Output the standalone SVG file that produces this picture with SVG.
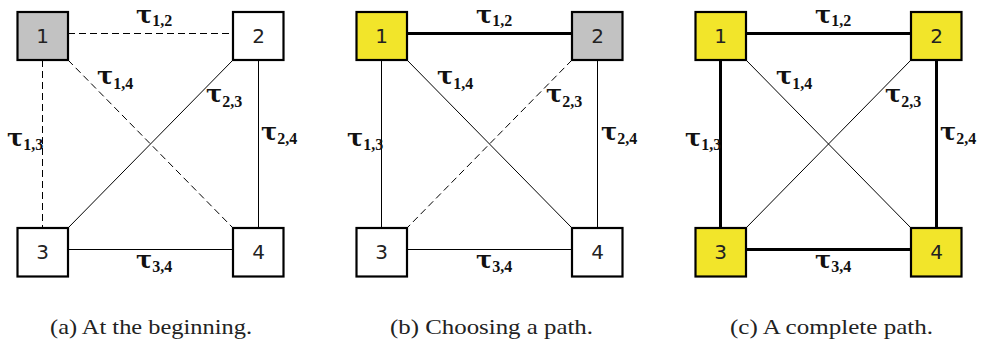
<svg xmlns="http://www.w3.org/2000/svg" width="982" height="344" viewBox="0 0 982 344">
<style>
.box{stroke:#000;stroke-width:2.2}
.w{fill:#fff}.g{fill:#c2c2c2}.y{fill:#f2e52a}
.num{font-family:"DejaVu Sans",sans-serif;font-size:20px;fill:#222;text-anchor:middle}
.e{stroke:#000;stroke-width:1;fill:none}
.d{stroke-dasharray:7,4}
.t{stroke:#000;stroke-width:3;fill:none}
.lab{font-family:"DejaVu Serif",serif;font-size:24px;font-weight:bold;fill:#111}
.sub{font-family:"Liberation Serif",serif;font-size:16px;font-weight:bold}
.cap{font-family:"Liberation Serif",serif;font-size:22px;fill:#222}
</style>

<!-- Panel a -->
<g id="panel-a">
  <g id="a-edges">
    <line class="e d" x1="68" y1="33.5" x2="233" y2="33.5"/>
    <line class="e d" x1="42.5" y1="60" x2="42.5" y2="228"/>
    <line class="e d" x1="68" y1="60" x2="233" y2="228"/>
    <line class="e" x1="233" y1="60" x2="68" y2="228"/>
    <line class="e" x1="258.5" y1="60" x2="258.5" y2="228"/>
    <line class="e" x1="68" y1="249.5" x2="233" y2="249.5"/>
  </g>
  <g id="a-labels">
    <text class="lab" x="136" y="22.5">τ<tspan class="sub" dy="3">1,2</tspan></text>
    <text class="lab" x="97" y="84">τ<tspan class="sub" dy="5">1,4</tspan></text>
    <text class="lab" x="206" y="102">τ<tspan class="sub" dy="5">2,3</tspan></text>
    <text class="lab" x="7" y="146">τ<tspan class="sub" dy="4">1,3</tspan></text>
    <text class="lab" x="261" y="140">τ<tspan class="sub" dy="4">2,4</tspan></text>
    <text class="lab" x="136" y="268">τ<tspan class="sub" dy="4">3,4</tspan></text>
  </g>
  <g id="a-n1"><rect class="box g" x="17.5" y="12" width="50.5" height="48"/><text class="num" x="42.5" y="43">1</text></g>
  <g id="a-n2"><rect class="box w" x="233" y="12" width="50.5" height="48"/><text class="num" x="258.5" y="43">2</text></g>
  <g id="a-n3"><rect class="box w" x="17.5" y="228" width="50.5" height="48.5"/><text class="num" x="42.5" y="259">3</text></g>
  <g id="a-n4"><rect class="box w" x="233" y="228" width="50.5" height="48.5"/><text class="num" x="258.5" y="259">4</text></g>
  <text class="cap" x="50" y="334" textLength="202" lengthAdjust="spacingAndGlyphs">(a)  At the beginning.</text>
</g>

<!-- Panel b -->
<g id="panel-b" transform="translate(339,0)">
  <g id="b-edges">
    <line class="t" x1="68" y1="33.5" x2="233" y2="33.5"/>
    <line class="e" x1="42.5" y1="60" x2="42.5" y2="228"/>
    <line class="e" x1="68" y1="60" x2="233" y2="228"/>
    <line class="e d" x1="233" y1="60" x2="68" y2="228"/>
    <line class="e" x1="258.5" y1="60" x2="258.5" y2="228"/>
    <line class="e" x1="68" y1="249.5" x2="233" y2="249.5"/>
  </g>
  <g id="b-labels">
    <text class="lab" x="137" y="22.5">τ<tspan class="sub" dy="3">1,2</tspan></text>
    <text class="lab" x="98" y="84">τ<tspan class="sub" dy="5">1,4</tspan></text>
    <text class="lab" x="207" y="102">τ<tspan class="sub" dy="5">2,3</tspan></text>
    <text class="lab" x="8" y="146">τ<tspan class="sub" dy="4">1,3</tspan></text>
    <text class="lab" x="262" y="140">τ<tspan class="sub" dy="4">2,4</tspan></text>
    <text class="lab" x="137" y="268">τ<tspan class="sub" dy="4">3,4</tspan></text>
  </g>
  <g id="b-n1"><rect class="box y" x="17.5" y="12" width="50.5" height="48"/><text class="num" x="42.5" y="43">1</text></g>
  <g id="b-n2"><rect class="box g" x="233" y="12" width="50.5" height="48"/><text class="num" x="258.5" y="43">2</text></g>
  <g id="b-n3"><rect class="box w" x="17.5" y="228" width="50.5" height="48.5"/><text class="num" x="42.5" y="259">3</text></g>
  <g id="b-n4"><rect class="box w" x="233" y="228" width="50.5" height="48.5"/><text class="num" x="258.5" y="259">4</text></g>
  <text class="cap" x="51" y="334" textLength="203" lengthAdjust="spacingAndGlyphs">(b)  Choosing a path.</text>
</g>

<!-- Panel c -->
<g id="panel-c" transform="translate(678,0)">
  <g id="c-edges">
    <line class="t" x1="68" y1="33.5" x2="233" y2="33.5"/>
    <line class="t" x1="42.5" y1="60" x2="42.5" y2="228"/>
    <line class="e" x1="68" y1="60" x2="233" y2="228"/>
    <line class="e" x1="233" y1="60" x2="68" y2="228"/>
    <line class="t" x1="258.5" y1="60" x2="258.5" y2="228"/>
    <line class="t" x1="68" y1="249.5" x2="233" y2="249.5"/>
  </g>
  <g id="c-labels">
    <text class="lab" x="137" y="22.5">τ<tspan class="sub" dy="3">1,2</tspan></text>
    <text class="lab" x="98" y="84">τ<tspan class="sub" dy="5">1,4</tspan></text>
    <text class="lab" x="207" y="102">τ<tspan class="sub" dy="5">2,3</tspan></text>
    <text class="lab" x="7" y="146">τ<tspan class="sub" dy="4">1,3</tspan></text>
    <text class="lab" x="262" y="140">τ<tspan class="sub" dy="4">2,4</tspan></text>
    <text class="lab" x="137" y="268">τ<tspan class="sub" dy="4">3,4</tspan></text>
  </g>
  <g id="c-n1"><rect class="box y" x="17.5" y="12" width="50.5" height="48"/><text class="num" x="42.5" y="43">1</text></g>
  <g id="c-n2"><rect class="box y" x="233" y="12" width="50.5" height="48"/><text class="num" x="258.5" y="43">2</text></g>
  <g id="c-n3"><rect class="box y" x="17.5" y="228" width="50.5" height="48.5"/><text class="num" x="42.5" y="259">3</text></g>
  <g id="c-n4"><rect class="box y" x="233" y="228" width="50.5" height="48.5"/><text class="num" x="258.5" y="259">4</text></g>
  <text class="cap" x="52" y="334" textLength="203" lengthAdjust="spacingAndGlyphs">(c)  A complete path.</text>
</g>
</svg>
